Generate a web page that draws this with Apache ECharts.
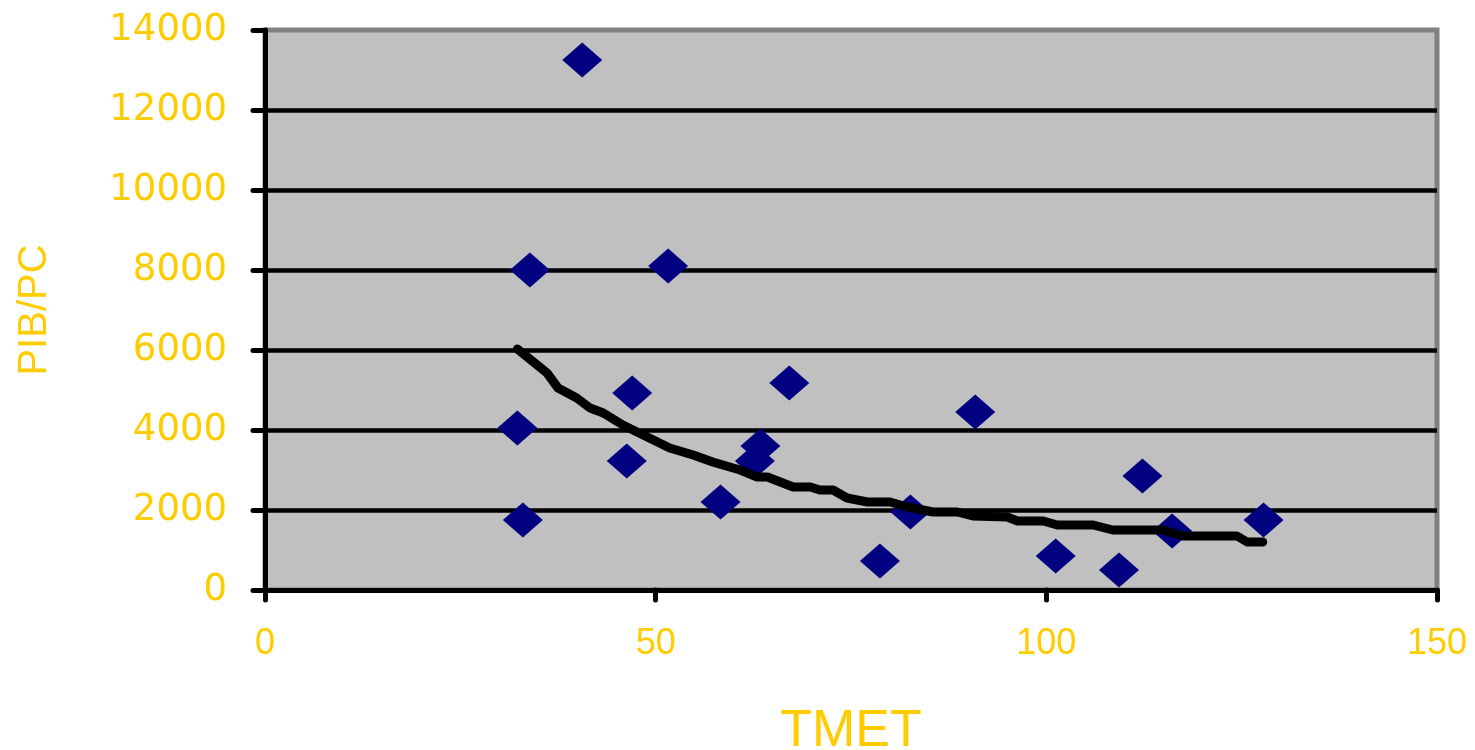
<!DOCTYPE html>
<html>
<head>
<meta charset="utf-8">
<style>
  html, body { margin: 0; padding: 0; background: #fff; }
  #chart { width: 1475px; height: 750px; }
</style>
<script src="https://cdn.jsdelivr.net/npm/echarts@6/dist/echarts.min.js"></script>
</head>
<body>
<div id="chart"></div>
<script>
// TMET vs PIB/PC
const tmet = [40.6, 33.9, 51.6, 32.3, 33.0, 47.0, 46.3, 63.4, 62.7, 58.3, 67.1, 78.7, 82.6, 90.9, 101.2, 109.3, 112.3, 116.1, 127.8]
const pibpc = [13250, 8000, 8100, 4050, 1750, 4925, 3225, 3600, 3225, 2200, 5175, 725, 1950, 4450, 850, 500, 2850, 1475, 1750]

// trend line as drawn (stepped), points read along it
const trendX = [32.3, 36.1, 37.5, 39.9, 41.6, 43.3, 45.8, 48.4, 51.8, 54.8, 57.3, 60.8, 63.0, 64.3, 67.6, 69.8, 71.0, 72.7, 74.5, 77.1, 80.0, 82.2, 85.5, 88.6, 90.6, 95.0, 96.3, 99.6, 101.4, 106.0, 108.5, 114.9, 117.5, 124.4, 125.7, 127.7]
const trendY = [6025, 5425, 5050, 4800, 4550, 4425, 4125, 3875, 3550, 3375, 3200, 3000, 2825, 2825, 2575, 2575, 2500, 2500, 2300, 2200, 2200, 2075, 1950, 1950, 1850, 1825, 1725, 1725, 1625, 1625, 1500, 1500, 1350, 1350, 1200, 1200]

const yellow = '#FFCC00'

const chart = echarts.init(document.getElementById('chart'))
chart.setOption({
  animation: false,
  backgroundColor: '#ffffff',
  grid: {
    left: 265,
    right: 38,
    top: 30,
    bottom: 160,
    outerBoundsMode: 'none',
    containLabel: false,
    show: true,
    backgroundColor: '#c0c0c0',
    borderColor: '#808080',
    borderWidth: 5
  },
  xAxis: {
    type: 'value',
    min: 0,
    max: 150,
    interval: 50,
    name: 'TMET',
    nameLocation: 'middle',
    nameGap: 116,
    nameTextStyle: { color: yellow, fontSize: 52, fontFamily: 'Liberation Sans' },
    axisLine: { lineStyle: { color: '#000', width: 5 } },
    axisTick: { inside: false, length: 10, lineStyle: { color: '#000', width: 5, cap: 'round' } },
    axisLabel: { color: yellow, fontSize: 36, fontFamily: 'Liberation Sans', margin: 36, formatter: v => String(v) },
    splitLine: { show: false }
  },
  yAxis: {
    type: 'value',
    min: 0,
    max: 14000,
    interval: 2000,
    name: 'PIB/PC',
    nameLocation: 'middle',
    nameRotate: 90,
    nameGap: 210,
    nameTextStyle: { color: yellow, fontSize: 40, fontFamily: 'Liberation Sans' },
    axisLine: { lineStyle: { color: '#000', width: 5 } },
    axisTick: { inside: false, length: 12, lineStyle: { color: '#000', width: 5, cap: 'round' } },
    axisLabel: { color: yellow, fontSize: 37, fontFamily: 'DejaVu Sans', margin: 38, formatter: v => String(v) },
    splitLine: { show: true, showMaxLine: false, lineStyle: { color: '#000', width: 4.5 } }
  },
  series: [
    {
      name: 'PIB/PC',
      type: 'scatter',
      symbol: 'diamond',
      symbolSize: [40, 35],
      itemStyle: { color: '#000080', opacity: 1 },
      data: tmet.map((x, i) => [x, pibpc[i]]),
      z: 3
    },
    {
      name: 'Tendance',
      type: 'line',
      showSymbol: false,
      symbol: 'none',
      lineStyle: { color: '#000', width: 9, cap: 'round', join: 'round' },
      data: trendX.map((x, i) => [x, trendY[i]]),
      z: 4
    }
  ]
})
</script>
</body>
</html>
